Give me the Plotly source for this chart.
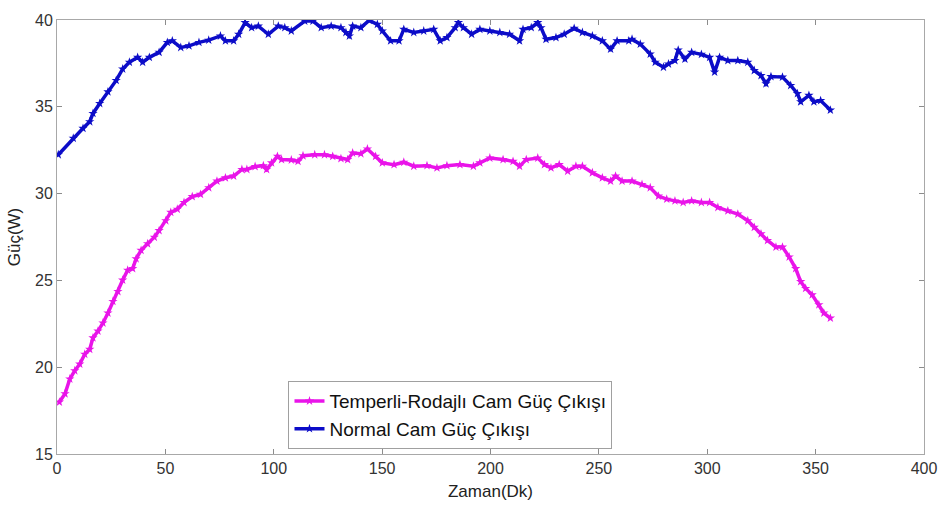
import plotly.graph_objects as go

# Normal glass panel output (time in minutes, power in W)
normal_t = [0.6, 7.5, 12.0, 15.1, 16.6, 19.7, 23.5, 27.3, 30.3, 33.4, 37.2, 39.5, 42.6, 47.1,
            50.9, 53.2, 57.1, 60.9, 65.5, 70.0, 75.4, 77.7, 81.5, 83.8, 86.8, 89.8, 92.9, 97.5,
            102.1, 105.1, 108.1, 114.3, 118.1, 121.9, 126.5, 131.0, 133.3, 134.9, 136.4, 140.2,
            144.0, 147.8, 150.1, 153.9, 157.8, 160.0, 164.6, 169.2, 173.8, 176.8, 179.9, 183.7,
            185.2, 187.5, 191.3, 195.1, 199.7, 204.3, 208.8, 213.4, 215.0, 218.8, 221.8, 223.3,
            225.6, 230.2, 234.0, 238.6, 242.4, 247.0, 251.6, 255.4, 258.4, 263.8, 265.3, 269.1,
            273.7, 276.0, 279.8, 282.1, 285.1, 286.6, 289.7, 292.8, 297.3, 301.1, 303.4, 305.7,
            309.5, 314.1, 318.7, 321.7, 324.8, 327.1, 329.4, 334.7, 338.5, 341.6, 343.1, 346.9,
            349.2, 352.3, 356.8]
normal_p = [32.24, 33.19, 33.76, 34.14, 34.62, 35.19, 35.86, 36.52, 37.18, 37.57, 37.85, 37.57,
            37.85, 38.14, 38.71, 38.80, 38.42, 38.51, 38.71, 38.84, 39.08, 38.80, 38.80, 39.18,
            39.85, 39.56, 39.65, 39.18, 39.65, 39.56, 39.37, 39.94, 39.94, 39.56, 39.65, 39.56,
            39.28, 39.08, 39.65, 39.56, 39.98, 39.75, 39.37, 38.80, 38.80, 39.46, 39.28, 39.37,
            39.46, 38.80, 38.99, 39.56, 39.85, 39.56, 39.18, 39.46, 39.37, 39.28, 39.18, 38.80,
            39.46, 39.56, 39.85, 39.56, 38.89, 38.99, 39.18, 39.52, 39.28, 39.08, 38.80, 38.32,
            38.80, 38.80, 38.89, 38.61, 38.04, 37.57, 37.28, 37.47, 37.66, 38.27, 37.75, 38.14,
            38.02, 37.85, 37.00, 37.85, 37.66, 37.66, 37.57, 37.09, 36.80, 36.33, 36.74, 36.71,
            36.23, 35.76, 35.29, 35.66, 35.29, 35.36, 34.81]

# Tempered-lapped glass panel output
temper_t = [1.1, 3.7, 5.9, 8.2, 10.5, 12.8, 15.1, 16.6, 18.9, 21.2, 23.5, 25.8, 28.1, 30.3,
            32.6, 34.9, 36.5, 38.8, 41.8, 44.9, 47.1, 50.2, 52.5, 55.5, 58.6, 62.4, 66.2, 70.0,
            73.8, 77.7, 81.5, 85.3, 87.6, 91.4, 95.2, 96.7, 99.0, 101.7, 103.6, 108.1, 111.2,
            113.5, 118.9, 123.4, 127.2, 131.0, 134.1, 136.4, 140.2, 143.2, 147.0, 150.1, 155.5,
            160.0, 164.6, 170.7, 175.3, 179.9, 185.9, 192.1, 195.1, 199.7, 205.8, 210.4, 213.4,
            216.5, 221.8, 224.9, 227.9, 231.7, 235.6, 239.4, 242.4, 247.0, 251.6, 255.4, 257.7,
            260.7, 265.3, 269.9, 273.7, 277.5, 281.3, 285.1, 288.9, 292.8, 297.3, 301.1, 304.9,
            309.5, 314.1, 318.7, 321.7, 324.8, 327.8, 331.7, 334.7, 337.8, 340.8, 343.1, 345.4,
            348.4, 351.5, 353.8, 356.8]
temper_p = [17.99, 18.47, 19.32, 19.80, 20.18, 20.75, 21.03, 21.69, 22.08, 22.55, 23.12, 23.79,
            24.36, 25.02, 25.59, 25.68, 26.25, 26.73, 27.11, 27.49, 27.87, 28.44, 28.92, 29.10,
            29.49, 29.83, 29.96, 30.34, 30.72, 30.91, 31.01, 31.39, 31.39, 31.56, 31.61, 31.39,
            31.77, 32.15, 31.96, 31.94, 31.86, 32.18, 32.24, 32.24, 32.15, 32.02, 31.96, 32.34,
            32.30, 32.57, 32.15, 31.77, 31.67, 31.81, 31.58, 31.61, 31.48, 31.61, 31.67, 31.58,
            31.77, 32.05, 31.96, 31.86, 31.58, 31.96, 32.05, 31.67, 31.48, 31.67, 31.29, 31.58,
            31.58, 31.20, 30.91, 30.72, 31.01, 30.72, 30.72, 30.53, 30.34, 29.86, 29.68, 29.58,
            29.49, 29.58, 29.49, 29.49, 29.20, 29.01, 28.82, 28.44, 28.06, 27.68, 27.30, 26.92,
            26.92, 26.35, 25.68, 24.93, 24.54, 24.17, 23.60, 23.12, 22.83]

x_ticks = [0, 50, 100, 150, 200, 250, 300, 350, 400]
y_ticks = [15, 20, 25, 30, 35, 40]

MAGENTA = "#e914e9"
BLUE = "#0c0cc8"
FONT = "Liberation Sans, Arial, sans-serif"

fig = go.Figure()
fig.add_trace(go.Scatter(
    x=temper_t, y=temper_p, mode="lines+markers",
    name="Temperli-Rodajlı Cam Güç Çıkışı",
    line=dict(color=MAGENTA, width=3.5),
    marker=dict(symbol="star", size=7, color=MAGENTA),
))
fig.add_trace(go.Scatter(
    x=normal_t, y=normal_p, mode="lines+markers",
    name="Normal Cam Güç Çıkışı",
    line=dict(color=BLUE, width=3.5),
    marker=dict(symbol="star", size=7, color=BLUE),
))

axis_common = dict(
    showgrid=False, zeroline=False, showline=True, linecolor="#a8a8a8", linewidth=1,
    mirror="allticks", ticks="inside", ticklen=5, tickcolor="#8c8c8c",
    tickfont=dict(family=FONT, size=16, color="#333333"),
)

fig.update_xaxes(range=[0, 400], tickvals=x_ticks,
                 title=dict(text="Zaman(Dk)", font=dict(family=FONT, size=17, color="#222222"),
                            standoff=8),
                 **axis_common)
fig.update_yaxes(range=[15, 40], tickvals=y_ticks,
                 title=dict(text="Güç(W)", font=dict(family=FONT, size=17, color="#222222"),
                            standoff=10),
                 **axis_common)

fig.update_layout(
    width=949, height=511,
    margin=dict(l=57, r=18, t=16, b=57),
    paper_bgcolor="white", plot_bgcolor="white",
    font=dict(family=FONT),
    legend=dict(
        x=0.267, y=0.168, xanchor="left", yanchor="top",
        bgcolor="white", bordercolor="#a0a0a0", borderwidth=1,
        font=dict(family=FONT, size=19, color="#111111"),
        tracegroupgap=0, itemwidth=30,
    ),
)

fig.write_html("out.html")
